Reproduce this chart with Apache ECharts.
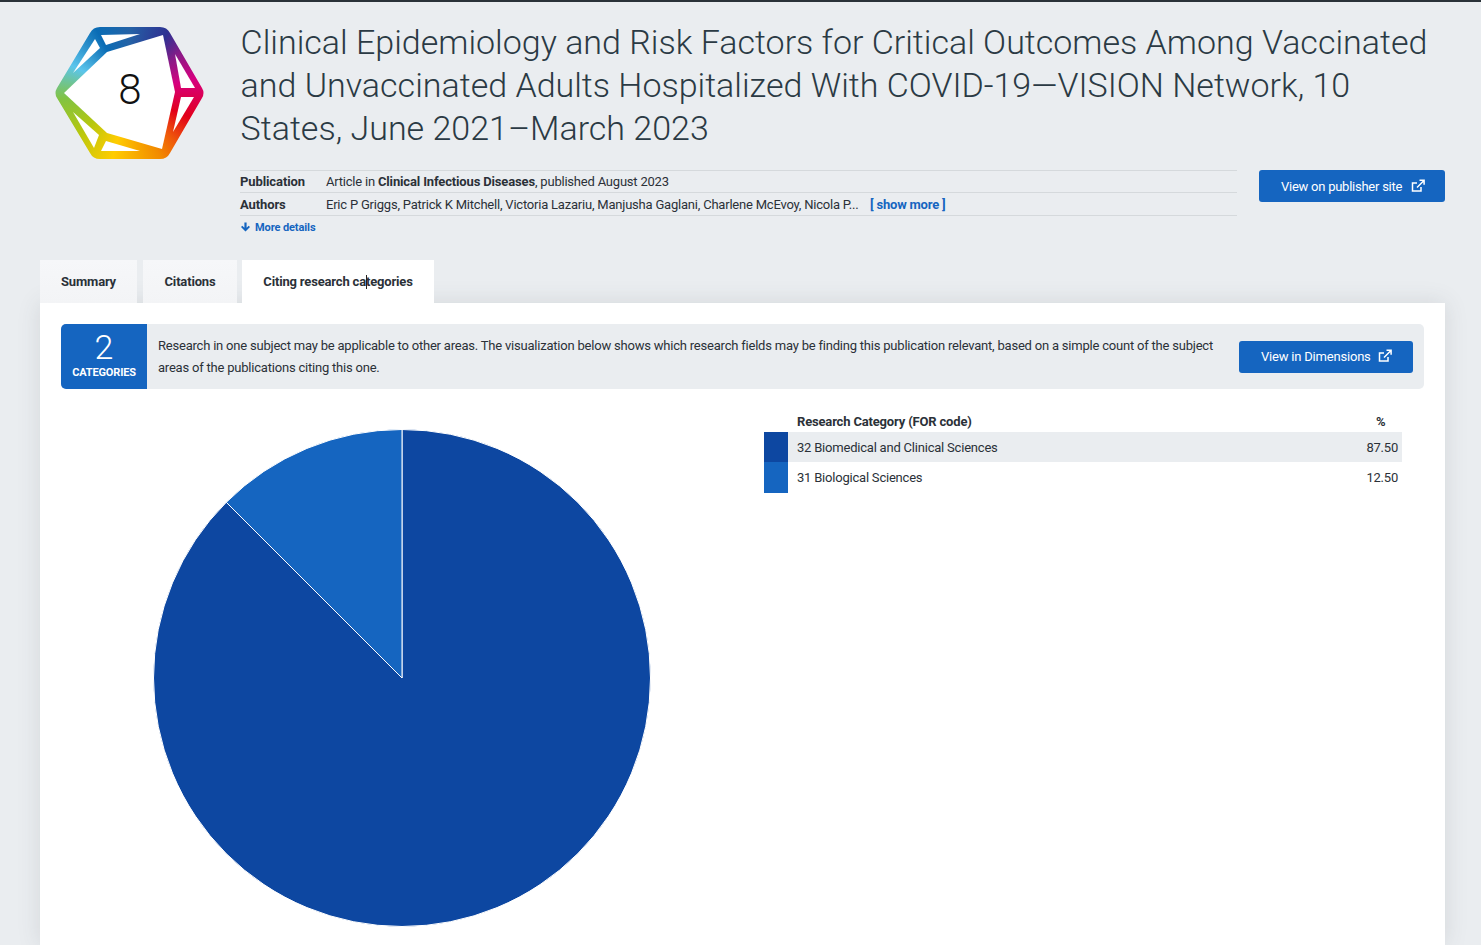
<!DOCTYPE html>
<html><head><meta charset="utf-8">
<script src="https://cdn.jsdelivr.net/npm/echarts@6/dist/echarts.min.js"></script>
<style>
html,body{margin:0;padding:0;width:1481px;height:945px;overflow:hidden;background:#eaedf0;font-family:Roboto,sans-serif;color:#2b3138;}
.a{position:absolute;white-space:nowrap;}
b{font-weight:700;letter-spacing:-.15px}
#top{left:0;top:0;width:1481px;height:2px;background:#2a3238}
#title{left:240.6px;top:21px;font-size:34px;line-height:43px;font-weight:300;color:#2b3a44;white-space:normal;width:1210px}
.ln{height:1px;background:#d5d9dc;left:240px;width:997px}
.t13{font-size:13px;line-height:16px;letter-spacing:-.21px}
.blue{color:#1565c0}
.btn{background:#1565c0;color:#fff;border-radius:3px;font-size:13px;height:32px;box-sizing:border-box}
.tab{top:260px;height:43px;background:linear-gradient(#f6f7f9,#f3f4f6);font-size:13px;font-weight:700;line-height:43px;text-align:center;letter-spacing:-.17px}
#card{left:40px;top:303px;width:1405px;height:642px;background:#fff;box-shadow:0 0 22px rgba(60,70,80,.13)}
#info{left:61px;top:324px;width:1363px;height:65px;background:#eaedf0;border-radius:5px}
#cnt{left:61px;top:324px;width:86px;height:65px;background:#1565c0;border-radius:5px 0 0 5px;color:#fff;text-align:center}
#chart{left:40px;top:410px;width:720px;height:535px}
.sw{left:764px;width:24px}
</style></head><body>
<div class="a" id="top"></div>
<div class="a" id="logo" style="left:54px;top:26px;width:152px;height:134px;background:conic-gradient(from 0deg at 76px 67px,#2562a6 0deg,#2e3192 32deg,#8a1a87 52deg,#d6007f 78deg,#e2001a 112deg,#ef5a0a 138deg,#f28c00 155deg,#ffcc00 195deg,#b5c70f 232deg,#82c341 265deg,#5bc5ec 295deg,#0a6cb5 332deg,#2562a6 360deg);clip-path:path('M36 7 Q39 1 46 1 L106 1 Q113 1 116 7 L148 62 Q151 67 148 72 L116 127 Q113 133 106 133 L46 133 Q39 133 36 127 L3 72 Q0 67 3 62 Z')"></div>
<svg class="a" style="left:0;top:0" width="260" height="180" fill="#fff">
<polygon points="64,93 107,52 163,35 175,92 162,149 107,133"/>
<polygon points="95,39 100,48 73,73"/><polygon points="101,35 140,34 106,45"/>
<polygon points="175,54 195,88 181,88"/><polygon points="181,97 194,97 173,132"/>
<polygon points="106,141 140,151 101,151"/><polygon points="73,112 99,135 94,148"/>
</svg>
<div class="a" style="left:100px;top:64px;width:60px;text-align:center;font-size:42px;line-height:52px;font-weight:300;color:#111" id="score"></div>
<div class="a" id="title"></div>
<div class="a ln" style="top:170px"></div><div class="a ln" style="top:192px"></div><div class="a ln" style="top:215px"></div>
<div class="a t13" style="left:240px;top:174px;font-weight:700;letter-spacing:-.1px">Publication</div>
<div class="a t13" style="left:326px;top:174px">Article in <b>Clinical Infectious Diseases</b>, published August 2023</div>
<div class="a t13" style="left:240px;top:197px;font-weight:700;letter-spacing:-.1px">Authors</div>
<div class="a t13" style="left:326px;top:197px" id="authors"></div>
<div class="a t13 blue" style="left:870px;top:197px;font-weight:700;letter-spacing:-.2px">[ show more ]</div>
<svg class="a" style="left:240px;top:222px" width="11" height="10"><path d="M5.5 9.5 L1 5 L2.3 3.7 L4.4 5.8 L4.4 0.5 L6.6 0.5 L6.6 5.8 L8.7 3.7 L10 5 Z" fill="#1565c0"/></svg>
<div class="a blue" style="left:255px;top:221px;font-size:11px;line-height:14px;font-weight:700;letter-spacing:-.1px">More details</div>
<div class="a btn" style="left:1259px;top:170px;width:186px;padding-left:22px;line-height:34px;letter-spacing:-.25px">View on publisher site<svg style="position:absolute;left:152px;top:9px" width="14" height="14" fill="none" stroke="#fff" stroke-width="1.5"><path d="M10 8v4H1.5V4H6"/><path d="M6 8.5 L12.5 2M8.5 1.2h4.6v4.6"/></svg></div>
<div class="a" id="card"></div>
<div class="a tab" style="left:40px;width:97px">Summary</div>
<div class="a tab" style="left:143px;width:94px">Citations</div>
<div class="a tab" style="left:242px;width:192px;background:#fff">Citing research categories</div>
<div class="a" style="left:366px;top:275px;width:1px;height:14px;background:#222"></div>
<div class="a" id="info"></div>
<div class="a" id="cnt"><div style="font-size:34px;line-height:36px;margin-top:5px;font-weight:300" id="cntN"></div><div style="font-size:11px;line-height:14px;margin-top:1px;font-weight:700;letter-spacing:-.15px">CATEGORIES</div></div>
<div class="a t13" style="left:158px;top:335px;line-height:22px;white-space:nowrap">Research in one subject may be applicable to other areas. The visualization below shows which research fields may be finding this publication relevant, based on a simple count of the subject<br>areas of the publications citing this one.</div>
<div class="a btn" style="left:1239px;top:341px;width:174px;padding-left:22px;line-height:32px;letter-spacing:-.2px">View in Dimensions<svg style="position:absolute;left:139px;top:8px" width="14" height="14" fill="none" stroke="#fff" stroke-width="1.5"><path d="M10 8v4H1.5V4H6"/><path d="M6 8.5 L12.5 2M8.5 1.2h4.6v4.6"/></svg></div>
<div class="a" id="chart"></div>
<div class="a t13" style="left:797px;top:414px;font-weight:700;letter-spacing:-.17px">Research Category (FOR code)</div>
<div class="a t13" style="left:1376px;top:414px;font-weight:700">%</div>
<div id="rows"></div>
<script>
const titleText='Clinical Epidemiology and Risk Factors for Critical Outcomes Among Vaccinated and Unvaccinated Adults Hospitalized With COVID-19—VISION Network, 10 States, June 2021–March 2023';
const authorsText='Eric P Griggs, Patrick K Mitchell, Victoria Lazariu, Manjusha Gaglani, Charlene McEvoy, Nicola P...';
const altmetricScore='8';
const categoryCount='2';
const categories=['32 Biomedical and Clinical Sciences','31 Biological Sciences'];
const percentages=[87.50,12.50];
const sliceColors=['#0d47a1','#1565c0'];

document.getElementById('title').textContent=titleText;
document.getElementById('authors').textContent=authorsText;
document.getElementById('score').textContent=altmetricScore;
document.getElementById('cntN').textContent=categoryCount;
let html='';
categories.forEach((c,i)=>{
  const top=432+i*30, h=i===0?30:31;
  if(i===0) html+=`<div class="a" style="left:788px;top:${top}px;width:614px;height:${h}px;background:#eaedf0"></div>`;
  html+=`<div class="a sw" style="top:${top}px;height:${h}px;background:${sliceColors[i]}"></div>`;
  html+=`<div class="a t13" style="left:797px;top:${top+8}px">${c}</div>`;
  html+=`<div class="a t13" style="right:83px;top:${top+8}px">${percentages[i].toFixed(2)}</div>`;
});
document.getElementById('rows').innerHTML=html;
const chart=echarts.init(document.getElementById('chart'),null,{renderer:'canvas'});
chart.setOption({
  animation:false,
  series:[{type:'pie',center:[362,268],radius:[0,248.5],startAngle:90,clockwise:true,
    label:{show:false},labelLine:{show:false},
    itemStyle:{borderColor:'#fff',borderWidth:1},
    emphasis:{disabled:true},
    data:categories.map((c,i)=>({name:c,value:percentages[i],itemStyle:{color:sliceColors[i]}}))}]
});
</script>
</body></html>
